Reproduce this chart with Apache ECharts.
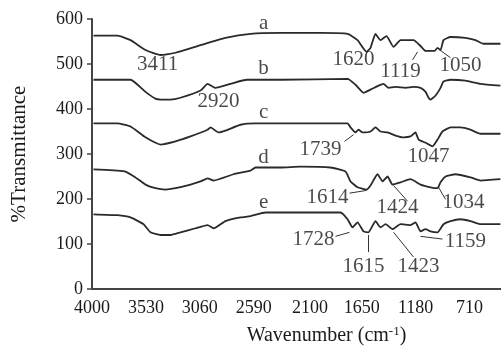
<!DOCTYPE html>
<html>
<head>
<meta charset="utf-8">
<script src="https://cdn.jsdelivr.net/npm/echarts@6/dist/echarts.min.js"></script>
<style>
  html, body { margin: 0; padding: 0; background: #fff; }
  #main { width: 501px; height: 351px; }
</style>
</head>
<body>
<div id="main"></div>
<script>
// FTIR spectra a-e, [wavenumber, %T offset]
const curveA = [[3987,563],[3778,563],[3664,553],[3534,531],[3403,520],[3272,525],[3054,542],[2837,558],[2619,567],[2357,569],[2009,569],[1773,567],[1686,553],[1608,527],[1573,536],[1530,567],[1486,553],[1434,562],[1372,538],[1311,553],[1198,553],[1137,540],[1093,529],[1015,529],[989,536],[963,531],[937,553],[876,560],[746,558],[658,553],[589,545],[441,545]];
const curveB = [[3987,465],[3664,465],[3534,438],[3447,423],[3403,421],[3316,421],[3229,425],[3054,441],[2993,456],[2924,447],[2793,456],[2650,465],[2357,465],[1773,467],[1704,454],[1634,436],[1573,443],[1503,452],[1460,456],[1416,447],[1355,449],[1268,447],[1198,449],[1137,447],[1093,438],[1067,425],[1050,421],[1006,430],[963,447],[937,461],[876,465],[746,463],[615,456],[441,452]];
const curveC = [[3987,368],[3778,368],[3664,361],[3534,337],[3403,321],[3272,328],[3142,339],[2993,354],[2967,359],[2898,348],[2837,352],[2706,365],[2575,368],[2357,368],[1773,368],[1747,359],[1704,348],[1678,354],[1643,348],[1573,350],[1530,359],[1486,350],[1425,348],[1355,341],[1285,337],[1224,339],[1181,348],[1154,332],[1093,325],[1033,317],[989,332],[946,350],[876,359],[789,359],[702,354],[615,345],[441,345]];
const curveD = [[3987,266],[3778,263],[3708,261],[3621,248],[3534,232],[3447,224],[3359,221],[3272,224],[3142,232],[3054,239],[2993,246],[2941,241],[2767,255],[2619,263],[2575,270],[2357,270],[2183,272],[1922,270],[1791,261],[1747,239],[1686,226],[1608,221],[1573,230],[1512,255],[1468,239],[1425,250],[1381,232],[1311,237],[1224,244],[1137,232],[1050,226],[989,224],[963,237],[919,250],[833,255],[702,248],[615,241],[441,244]];
const curveE = [[3987,166],[3778,164],[3664,159],[3551,144],[3490,126],[3403,120],[3316,120],[3229,126],[3098,135],[2993,142],[2941,135],[2837,151],[2706,159],[2619,162],[2488,170],[1834,170],[1773,155],[1730,137],[1686,148],[1634,128],[1591,126],[1530,151],[1486,137],[1442,144],[1381,133],[1311,144],[1224,142],[1181,148],[1137,128],[1093,133],[1050,128],[989,126],[937,144],[876,151],[789,155],[702,151],[615,144],[441,144]];

const curveNames = ['a', 'b', 'c', 'd', 'e'];
const curveLabelPos = [[2505,589],[2505,491],[2505,392],[2505,292],[2505,192]];

// peak annotations: [wavenumber, value, text]
const peakLabels = [
  [3429,498,'3411'], [2898,416,'2920'], [1721,509,'1620'], [1311,483,'1119'], [789,496,'1050'],
  [2009,310,'1739'], [1067,294,'1047'],
  [1948,204,'1614'], [1338,182,'1424'], [763,193,'1034'],
  [2070,111,'1728'], [1634,51,'1615'], [1154,49,'1423'], [746,106,'1159']
];
// leader lines from label to peak
const leaders = [
  [[1207,509],[1163,527]], [[980,533],[876,514]],
  [[1800,328],[1721,343]],
  [[1756,213],[1608,219]], [[1372,230],[1250,195]], [[980,226],[919,199]],
  [[1878,117],[1756,126]], [[1591,120],[1591,82]], [[1372,126],[1198,71]], [[1137,117],[946,111]]
];

const xTicks = [4000, 3530, 3060, 2590, 2100, 1650, 1180, 710];
const yTicks = [0, 100, 200, 300, 400, 500, 600];

const FONT = 'Liberation Serif';
const INK = '#1a1a1a';

const chart = echarts.init(document.getElementById('main'));

const curveSeries = [curveA, curveB, curveC, curveD, curveE].map((d, i) => ({
  name: curveNames[i],
  type: 'line',
  data: d,
  showSymbol: false,
  silent: true,
  smooth: 0.15,
  lineStyle: { color: '#2a2a2a', width: 1.8 }
}));

chart.setOption({
  backgroundColor: '#fff',
  animation: false,
  grid: { left: 92, right: 0, top: 19, bottom: 61 },
  xAxis: {
    type: 'value',
    inverse: true,
    min: 436,
    max: 4000,
    name: 'Wavenumber (cm{sup|-1})',
    nameLocation: 'middle',
    nameGap: 36,
    nameTextStyle: {
      fontFamily: FONT, fontSize: 20, color: INK, padding: [0, 0, 0, 60],
      rich: { sup: { fontFamily: FONT, fontSize: 13, color: INK, padding: [0, 0, 9, 0] } }
    },
    axisLine: { lineStyle: { color: '#444', width: 2 } },
    axisTick: { show: false },
    splitLine: { show: false },
    axisLabel: {
      customValues: xTicks,
      formatter: v => String(v),
      margin: 10,
      fontFamily: FONT, fontSize: 18, color: INK
    }
  },
  yAxis: {
    type: 'value',
    min: 0,
    max: 600,
    interval: 100,
    name: '%Transmittance',
    nameLocation: 'middle',
    nameGap: 62,
    nameTextStyle: { fontFamily: FONT, fontSize: 21, color: INK },
    axisLine: { show: true, lineStyle: { color: '#444', width: 2 } },
    axisTick: { show: true, length: 5, lineStyle: { color: '#444', width: 1.5 } },
    splitLine: { show: false },
    axisLabel: {
      customValues: yTicks,
      formatter: v => String(v),
      margin: 9,
      fontFamily: FONT, fontSize: 18, color: INK
    }
  },
  series: [
    ...curveSeries,
    {
      type: 'scatter',
      silent: true,
      symbolSize: 0,
      data: curveLabelPos.map((p, i) => [p[0], p[1], curveNames[i]]),
      label: {
        show: true, position: 'inside',
        formatter: p => p.value[2],
        fontFamily: FONT, fontSize: 21, color: INK
      }
    },
    {
      type: 'scatter',
      silent: true,
      symbolSize: 0,
      data: peakLabels,
      label: {
        show: true, position: 'inside',
        formatter: p => p.value[2],
        fontFamily: FONT, fontSize: 21, color: INK
      }
    },
    {
      type: 'lines',
      coordinateSystem: 'cartesian2d',
      silent: true,
      data: leaders.map(c => ({ coords: c })),
      lineStyle: { color: '#333', width: 1, opacity: 1 }
    }
  ]
});
</script>
</body>
</html>
